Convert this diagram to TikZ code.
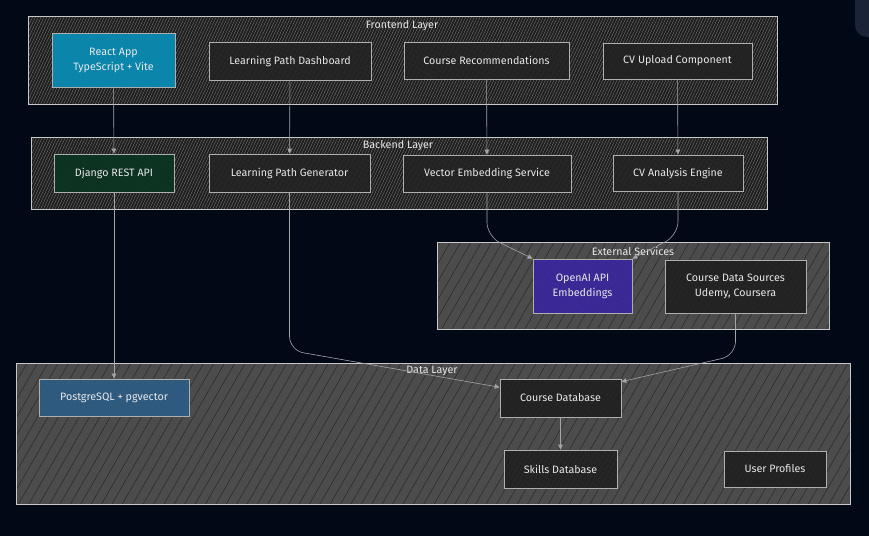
\documentclass[tikz,border=0pt]{standalone}
\usepackage{fontspec}
\setmainfont{Fira Sans}
\usetikzlibrary{patterns.meta, arrows.meta}

\definecolor{bgcol}{RGB}{1,8,22}
\definecolor{tabcol}{RGB}{27,36,54}
\definecolor{laylin}{RGB}{200,200,200}
\definecolor{darkfill}{RGB}{30,30,30}
\definecolor{darkhatch}{RGB}{125,125,125}
\definecolor{greyfill}{RGB}{76,76,76}
\definecolor{greyhatch}{RGB}{38,38,38}
\definecolor{boxlin}{RGB}{175,175,175}
\definecolor{nodefill}{RGB}{34,34,34}
\definecolor{nodehatch}{RGB}{62,62,62}
\definecolor{reactfill}{RGB}{10,134,172}
\definecolor{djangofill}{RGB}{12,50,33}
\definecolor{aifill}{RGB}{58,40,150}
\definecolor{pgfill}{RGB}{46,90,128}
\definecolor{edgecol}{RGB}{165,165,165}
\definecolor{txt}{RGB}{232,232,232}

\tikzset{
    darklayer/.style={draw=laylin, line width=.9pt, preaction={fill=darkfill},
        pattern={Lines[angle=65,distance=2.6pt,line width=.35pt]}, pattern color=darkhatch},
    greylayer/.style={draw=laylin, line width=.9pt, preaction={fill=greyfill},
        pattern={Lines[angle=60,distance=9pt,line width=.45pt]}, pattern color=greyhatch},
    box/.style 2 args={draw=boxlin, line width=.7pt, preaction={fill=#1},
        pattern={Lines[angle=60,distance=4pt,line width=.3pt]}, pattern color=#2,
        text=txt, align=center, inner sep=0pt},
    title/.style={text=txt, inner sep=0pt},
    arr/.style={draw=edgecol, line width=.6pt, rounded corners=14pt,
        -{Triangle[length=5pt,width=4.5pt]}},
}

\begin{document}
\begin{tikzpicture}[x=1pt,y=-1pt, font=\fontsize{10.7}{15}\selectfont]
\useasboundingbox (0,0) rectangle (869,536);
\fill[bgcol] (0,0) rectangle (869,536);
\fill[tabcol, rounded corners=12pt] (855,-20) rectangle (895,37);

% layers
\draw[darklayer] (28,16) rectangle (777,104);
\node[title] (frontT) at (402,26) {Frontend Layer};
\draw[darklayer] (31,137) rectangle (767,209);
\node[title] (backT) at (398,146) {Backend Layer};
\draw[greylayer] (437,242) rectangle (829,329);
\node[title] (extT) at (633,251) {External Services};
\draw[greylayer] (16,363) rectangle (850,504);
\node[title] (dataT) at (432,371) {Data Layer};

% frontend
\node[box={reactfill}{reactfill!80!black}, minimum width=123pt, minimum height=54pt] (react) at (113.5,60) {React App\\TypeScript + Vite};
\node[box={nodefill}{nodehatch}, minimum width=162pt, minimum height=38pt] (lpd) at (290,61) {Learning Path Dashboard};
\node[box={nodefill}{nodehatch}, minimum width=165pt, minimum height=37pt] (crec) at (486.5,60.5) {Course Recommendations};
\node[box={nodefill}{nodehatch}, minimum width=149pt, minimum height=36pt] (cvu) at (677.5,61) {CV Upload Component};

% backend
\node[box={djangofill}{djangofill!70!black}, minimum width=120pt, minimum height=38pt] (django) at (114,173) {Django REST API};
\node[box={nodefill}{nodehatch}, minimum width=161pt, minimum height=38pt] (lpg) at (289.5,173) {Learning Path Generator};
\node[box={nodefill}{nodehatch}, minimum width=168pt, minimum height=37pt] (ves) at (487,173.5) {Vector Embedding Service};
\node[box={nodefill}{nodehatch}, minimum width=130pt, minimum height=36pt] (cva) at (678,173) {CV Analysis Engine};

% external
\node[box={aifill}{aifill!75!black}, minimum width=99pt, minimum height=54pt] (oai) at (582.5,286) {OpenAI API\\Embeddings};
\node[box={nodefill}{nodehatch}, minimum width=141pt, minimum height=53pt] (cds) at (735.5,286.5) {Course Data Sources\\Udemy, Coursera};

% data
\node[box={pgfill}{pgfill!75!black}, minimum width=150pt, minimum height=37pt] (pg) at (114,397.5) {PostgreSQL + pgvector};
\node[box={nodefill}{nodehatch}, minimum width=121pt, minimum height=38pt] (cdb) at (560.5,398) {Course Database};
\node[box={nodefill}{nodehatch}, minimum width=113pt, minimum height=38pt] (skl) at (560.5,469) {Skills Database};
\node[box={nodefill}{nodehatch}, minimum width=102pt, minimum height=36pt] (usr) at (775,469) {User Profiles};

% links
\draw[arr] (react) -- (django);
\draw[arr] (lpd) -- (lpg);
\draw[arr] (crec) -- (ves);
\draw[arr] (cvu) -- (cva);
\draw[arr] (django) -- (pg);
\draw[arr] (lpg.south) -- ++(0,158) -- (cdb.170);
\draw[arr] (ves.south) -- ++(0,44) -- (oai.north west);
\draw[arr] (cva.south) -- ++(0,44) -- (oai.north east);
\draw[arr] (cds.south) -- ++(0,42) -- (cdb.15);
\draw[arr] (cdb) -- (skl);
\end{tikzpicture}
\end{document}
